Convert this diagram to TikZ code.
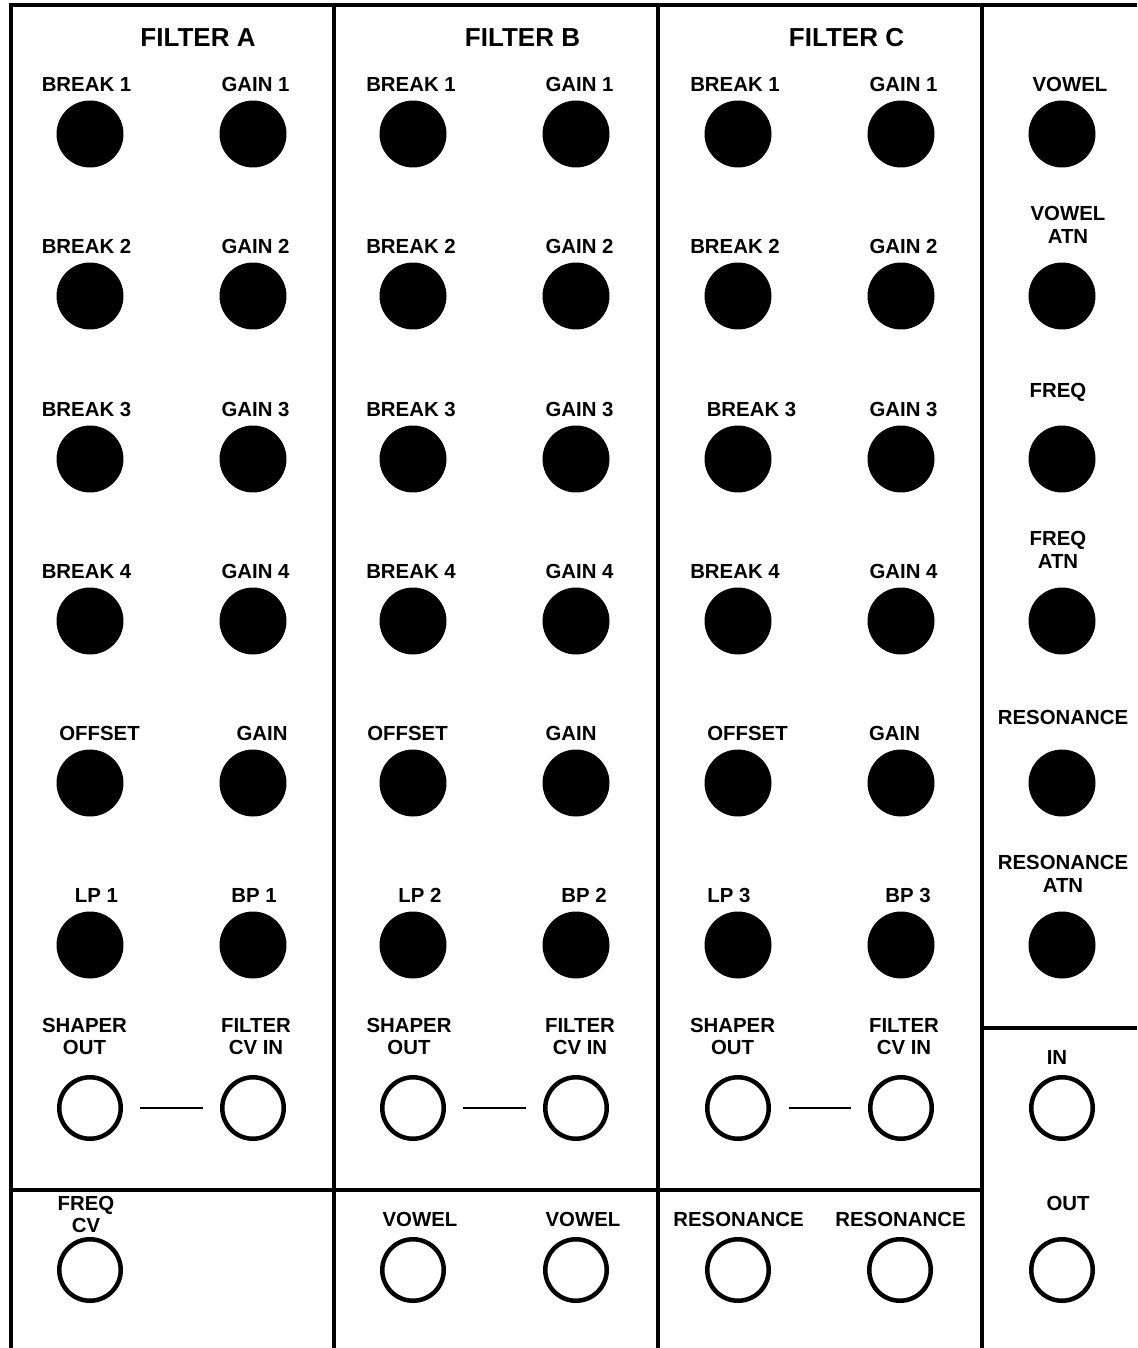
\documentclass[tikz,border=0pt]{standalone}
\usepackage{fontspec}
\setmainfont{Liberation Sans}

\begin{document}
\begin{tikzpicture}[x=0.02cm,y=-0.02cm,
	panel/.style={line width=0.08cm},
	knob/.style={circle,fill=black,inner sep=0pt,minimum size=1.34cm},
	jack/.style={circle,draw,line width=0.09cm,inner sep=0pt,minimum size=1.23cm},
	lbl/.style={font=\fontsize{11.6}{13}\selectfont\bfseries,align=center,inner sep=0pt},
	title/.style={font=\fontsize{14.8}{17}\selectfont\bfseries,inner sep=0pt},
	patch/.style={line width=0.05cm,shorten <=0.35cm,shorten >=0.35cm}]
	\useasboundingbox (0,0) rectangle (1137,1348);
	% panel frame
	\draw[panel] (11,1348) -- (11,5) -- (1137,5);
	\draw[panel] (333.5,5) -- (333.5,1348);
	\draw[panel] (658,5) -- (658,1348);
	\draw[panel] (981.5,5) -- (981.5,1348);
	\draw[panel] (11,1190) -- (981.5,1190);
	\draw[panel] (981.5,1028) -- (1137,1028);
	% titles
	\node[title] (tA) at (198,38) {FILTER A};
	\node[title] (tB) at (522.5,38) {FILTER B};
	\node[title] (tC) at (846.5,38) {FILTER C};
	% filter knobs and jacks
	\foreach \c/\x in {A/90,B/413,C/738}{
		\foreach \r/\y in {1/134,2/296,3/459,4/621,5/783,6/945}{
			\node[knob] (k\c\r a) at (\x,\y) {};
			\node[knob] (k\c\r b) at (\x+163,\y) {};
		}
		\node[jack] (so\c) at (\x,1108) {};
		\node[jack] (cv\c) at (\x+163,1108) {};
		\draw[patch] (so\c) -- (cv\c);
	}
	% bottom jacks
	\node[jack] (freqcv) at (90,1270) {};
	\node[jack] (vowA) at (413,1270) {};
	\node[jack] (vowB) at (576,1270) {};
	\node[jack] (resA) at (738,1270) {};
	\node[jack] (resB) at (900,1270) {};
	% right column
	\foreach \r/\y in {1/134,2/296,3/459,4/621,5/783,6/945}
		\node[knob] (kR\r) at (1062,\y) {};
	\node[jack] (in) at (1062,1108) {};
	\node[jack] (out) at (1062,1270) {};
	% labels
	\foreach \n/\x/\y/\t in {
		bA1/86.5/84/BREAK 1, gA1/255.5/84/GAIN 1,
		bA2/86.5/246/BREAK 2, gA2/255.5/246/GAIN 2,
		bA3/86.5/409/BREAK 3, gA3/255.5/409/GAIN 3,
		bA4/86.5/571/BREAK 4, gA4/255.5/571/GAIN 4,
		oA/99.5/733/OFFSET, gA/262/733/GAIN,
		lpA/96.5/895/LP 1, bpA/254/895/BP 1,
		sA/84.5/1036.5/{SHAPER\\OUT}, fA/256/1036.5/{FILTER\\CV IN},
		fcv/86/1214.5/{FREQ\\CV}}
		\node[lbl] (l\n) at (\x,\y) {\t};
	\foreach \n/\x/\y/\t in {
		bB1/411/84/BREAK 1, gB1/579.5/84/GAIN 1,
		bB2/411/246/BREAK 2, gB2/579.5/246/GAIN 2,
		bB3/411/409/BREAK 3, gB3/579.5/409/GAIN 3,
		bB4/411/571/BREAK 4, gB4/579.5/571/GAIN 4,
		oB/407.5/733/OFFSET, gB/571/733/GAIN,
		lpB/420/895/LP 2, bpB/584/895/BP 2,
		sB/409/1036.5/{SHAPER\\OUT}, fB/580/1036.5/{FILTER\\CV IN},
		vA/420/1219/VOWEL, vB/583/1219/VOWEL}
		\node[lbl] (l\n) at (\x,\y) {\t};
	\foreach \n/\x/\y/\t in {
		bC1/735/84/BREAK 1, gC1/903.5/84/GAIN 1,
		bC2/735/246/BREAK 2, gC2/903.5/246/GAIN 2,
		bC3/751.5/409/BREAK 3, gC3/903.5/409/GAIN 3,
		bC4/735/571/BREAK 4, gC4/903.5/571/GAIN 4,
		oC/747.5/733/OFFSET, gC/894.5/733/GAIN,
		lpC/729/895/LP 3, bpC/908/895/BP 3,
		sC/732.5/1036.5/{SHAPER\\OUT}, fC/904/1036.5/{FILTER\\CV IN},
		rA/738.5/1219/RESONANCE, rB/900.5/1219/RESONANCE}
		\node[lbl] (l\n) at (\x,\y) {\t};
	\foreach \n/\x/\y/\t in {
		vow/1070/84/VOWEL, vowatn/1068/225/{VOWEL\\ATN},
		frq/1058/392/FREQ, frqatn/1058/549.5/{FREQ\\ATN},
		res/1063/717/RESONANCE, resatn/1063/873.5/{RESONANCE\\ATN},
		in/1057/1057/IN, out/1068/1203/OUT}
		\node[lbl] (l\n) at (\x,\y) {\t};
\end{tikzpicture}
\end{document}
